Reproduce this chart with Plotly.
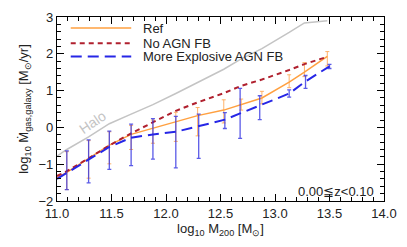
import numpy as np
import plotly.graph_objects as go

# ---------------- data ----------------
halo_x = [11.0, 11.09, 11.29, 11.48, 11.68, 11.88, 12.09, 12.29, 12.53, 12.69, 12.88, 13.13, 13.27, 13.48]
halo_y = [-0.78, -0.60, -0.26, 0.10, 0.36, 0.62, 0.92, 1.22, 1.58, 1.86, 2.14, 2.58, 2.84, 2.90]

ref_x = [11.0, 11.09, 11.29, 11.48, 11.68, 11.88, 12.09, 12.29, 12.53, 12.69, 12.88, 13.13, 13.27, 13.48]
ref_y = [-1.37, -1.22, -0.84, -0.48, -0.19, -0.02, 0.14, 0.32, 0.47, 0.63, 0.80, 1.23, 1.50, 1.93]
ref_hi = [None, -0.66, -0.36, -0.12, 0.05, 0.20, 0.41, 0.54, 0.75, 0.77, 0.98, 1.43, 1.76, 2.06]
ref_lo = [None, -1.69, -1.38, -0.99, -0.60, -0.43, -0.38, -0.23, 0.12, 0.47, 0.64, 1.08, 1.38, 1.67]

noagn_x = [11.0, 11.09, 11.29, 11.48, 11.68, 11.88, 12.09, 12.29, 12.53, 12.69, 12.88, 13.13, 13.27, 13.48]
noagn_y = [-1.32, -1.19, -0.84, -0.49, -0.16, 0.14, 0.45, 0.68, 0.93, 1.13, 1.30, 1.56, 1.72, 1.92]

expl_x = [11.0, 11.09, 11.29, 11.48, 11.68, 11.88, 12.09, 12.30, 12.54, 12.68, 12.86, 13.13, 13.28, 13.50]
expl_y = [-1.40, -1.24, -0.87, -0.53, -0.28, -0.19, -0.12, 0.03, 0.21, 0.38, 0.60, 0.92, 1.25, 1.66]
expl_hi = [None, -0.64, -0.34, -0.10, 0.09, 0.24, 0.30, 0.36, 0.40, 1.06, 0.86, 1.02, 1.41, 1.71]
expl_lo = [None, -1.69, -1.51, -1.14, -1.04, -0.86, -1.10, -0.84, -0.03, -0.30, 0.21, 0.82, 1.06, 1.60]

legend_names = ["Ref", "No AGN FB", "More Explosive AGN FB"]
x_ticks = [11.0, 11.5, 12.0, 12.5, 13.0, 13.5, 14.0]
y_ticks = [-2, -1, 0, 1, 2, 3]
z_label = "0.00≦z<0.10"
halo_label = "Halo"

# ---------------- styles ----------------
C_HALO = "#c4c4c4"
C_REF = "#ffa040"
C_REF_ERR = "rgba(255,170,90,0.9)"
C_NO = "#b0202e"
C_EX = "#2626e6"
C_EX_ERR = "rgba(50,50,225,0.8)"
FONT = "Liberation Sans, Arial, sans-serif"
TXT = "#222222"


def err_parts(x, y, hi, lo):
    xs, ys, up, dn = [], [], [], []
    for xi, yi, h, l in zip(x, y, hi, lo):
        if h is None:
            continue
        xs.append(xi)
        ys.append(yi)
        up.append(h - yi)
        dn.append(yi - l)
    return xs, ys, up, dn


fig = go.Figure()

fig.add_trace(go.Scatter(x=halo_x, y=halo_y, mode="lines",
                         line=dict(color=C_HALO, width=1.5), showlegend=False))

rx, ry, ru, rd = err_parts(ref_x, ref_y, ref_hi, ref_lo)
fig.add_trace(go.Scatter(x=rx, y=ry, mode="markers",
                         marker=dict(size=1, color="rgba(0,0,0,0)"),
                         error_y=dict(type="data", symmetric=False, array=ru, arrayminus=rd,
                                      color=C_REF_ERR, thickness=1, width=2),
                         showlegend=False))
fig.add_trace(go.Scatter(x=ref_x, y=ref_y, mode="lines",
                         line=dict(color=C_REF, width=1.5), showlegend=False))

fig.add_trace(go.Scatter(x=noagn_x, y=noagn_y, mode="lines",
                         line=dict(color=C_NO, width=2, dash="5px,4px"), showlegend=False))

ex, ey, eu, ed = err_parts(expl_x, expl_y, expl_hi, expl_lo)
fig.add_trace(go.Scatter(x=ex, y=ey, mode="markers",
                         marker=dict(size=1, color="rgba(0,0,0,0)"),
                         error_y=dict(type="data", symmetric=False, array=eu, arrayminus=ed,
                                      color=C_EX_ERR, thickness=1.3, width=2),
                         showlegend=False))
fig.add_trace(go.Scatter(x=expl_x, y=expl_y, mode="lines",
                         line=dict(color=C_EX, width=2, dash="11px,6px"), showlegend=False))

# legend drawn in axis-domain coordinates
leg_styles = [dict(color=C_REF, width=1.5), dict(color=C_NO, width=2, dash="5px,4px"),
              dict(color=C_EX, width=2, dash="11px,6px")]
leg_y = [0.940, 0.858, 0.785]
for name, st, yy in zip(legend_names, leg_styles, leg_y):
    fig.add_shape(type="line", xref="x domain", yref="y domain",
                  x0=0.042, x1=0.227, y0=yy, y1=yy, line=st)
    fig.add_annotation(xref="x domain", yref="y domain", x=0.258, y=yy, text=name,
                       showarrow=False, xanchor="left", yanchor="middle",
                       font=dict(family=FONT, size=13, color=TXT))

fig.add_annotation(x=11.33, y=0.15, text=halo_label, showarrow=False, textangle=-34,
                   font=dict(family=FONT, size=14, color=C_HALO))
fig.add_annotation(xref="x domain", yref="y domain", x=0.975, y=0.05, text=z_label,
                   showarrow=False, xanchor="right", yanchor="middle",
                   font=dict(family=FONT, size=13, color=TXT))

axis_common = dict(showgrid=False, zeroline=False, showline=True, linecolor="black",
                   linewidth=1.2, mirror="allticks", ticks="inside", ticklen=7,
                   tickcolor="black", tickwidth=1,
                   tickfont=dict(family=FONT, size=13, color=TXT))

fig.update_xaxes(range=[11.0, 14.0], tickvals=x_ticks,
                 ticktext=[f"{v:.1f}" for v in x_ticks],
                 minor=dict(ticks="inside", ticklen=3.5, dtick=0.1, tickcolor="black", showgrid=False),
                 title=dict(text="log<sub>10</sub> M<sub>200</sub> [M<sub>⊙</sub>]",
                            font=dict(family=FONT, size=13, color=TXT), standoff=4),
                 **axis_common)
fig.update_yaxes(range=[-2.0, 3.0], tickvals=y_ticks,
                 minor=dict(ticks="inside", ticklen=3.5, dtick=0.2, tickcolor="black", showgrid=False),
                 title=dict(text="log<sub>10</sub> Ṁ<sub>gas,galaxy</sub> [M<sub>⊙</sub>/yr]",
                            font=dict(family=FONT, size=13, color=TXT), standoff=6),
                 **axis_common)

fig.update_layout(width=407, height=247, margin=dict(l=57, r=21, t=10, b=46),
                  paper_bgcolor="white", plot_bgcolor="white", showlegend=False)

fig.write_html("out.html", config={"displayModeBar": False},
               post_script="document.body.style.margin='0px';document.body.style.padding='0px';")
